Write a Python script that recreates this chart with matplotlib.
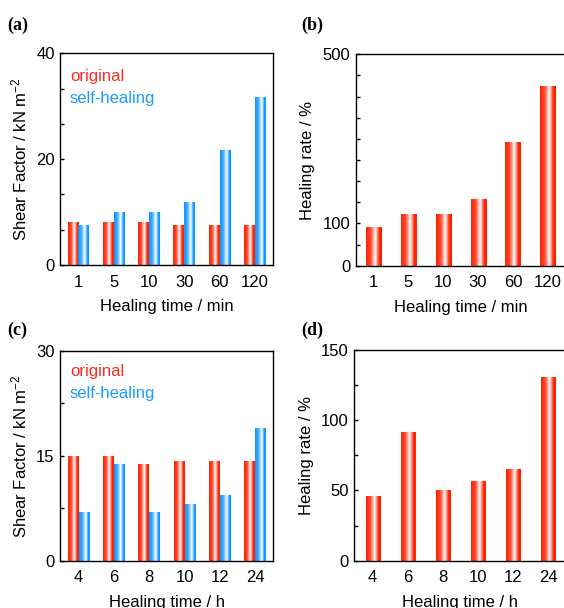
import numpy as np
import matplotlib
matplotlib.use("Agg")
import matplotlib.pyplot as plt
from matplotlib.colors import LinearSegmentedColormap
from matplotlib.ticker import FixedLocator

plt.rcParams['font.family'] = ['Liberation Sans', 'DejaVu Sans']
plt.rcParams['mathtext.fontset'] = 'custom'
plt.rcParams['mathtext.rm'] = 'Liberation Sans'
plt.rcParams['mathtext.it'] = 'Liberation Sans'

# ---- data ----
min_labels = ['1', '5', '10', '30', '60', '120']
min_original = [8.1, 8.1, 8.1, 7.5, 7.5, 7.5]
min_selfheal = [7.5, 10.0, 10.0, 11.9, 21.7, 31.7]
min_rate = [91.5, 122, 122, 158, 293, 425]

h_labels = ['4', '6', '8', '10', '12', '24']
h_original = [15.0, 15.0, 13.8, 14.3, 14.3, 14.3]
h_selfheal = [6.95, 13.8, 6.95, 8.1, 9.4, 19.0]
h_rate = [46, 91.6, 50.3, 56.7, 65.3, 130.8]

RED = '#ff2200'
BLUE = '#0a96ff'
RED_TXT = '#ff2a1a'
BLUE_TXT = '#1e9bff'

cmap_red = LinearSegmentedColormap.from_list(
    'r', [(0, RED), (0.3, '#ff4a30'), (0.58, '#ffffff'), (0.85, RED), (1, RED)])
cmap_blue = LinearSegmentedColormap.from_list(
    'b', [(0, BLUE), (0.3, '#40acff'), (0.62, '#ffffff'), (0.88, BLUE), (1, BLUE)])
grad = np.linspace(0, 1, 64).reshape(1, -1)


def gradient_bars(ax, x, heights, width, cmap):
    bars = ax.bar(x, heights, width=width, facecolor='none',
                  edgecolor='none', linewidth=0)
    for b in bars:
        x0, y0 = b.get_x(), b.get_y()
        w, h = b.get_width(), b.get_height()
        im = ax.imshow(grad, cmap=cmap, aspect='auto', interpolation='bilinear',
                       extent=(x0, x0 + w, y0, y0 + h), zorder=2)
        im.set_clip_path(b)
    return bars


fig = plt.figure(figsize=(5.64, 6.08), dpi=100)


def px_axes(left, right, top, bottom):
    return fig.add_axes([left / 564, 1 - bottom / 608,
                         (right - left) / 564, (bottom - top) / 608])


def style(ax):
    for s in ax.spines.values():
        s.set_linewidth(1.0)
        s.set_color('black')
    ax.tick_params(axis='y', which='both', direction='in', length=3,
                   width=1.0, labelsize=12, pad=4)
    ax.tick_params(axis='x', which='both', length=0, labelsize=12, pad=7)


FS = 12
YLAB_SF = r'Shear Factor / kN m$^{\mathregular{-2}}$'

# (a)
axa = px_axes(60.3, 273, 53.3, 265)
xa = np.arange(len(min_labels))
gradient_bars(axa, xa - 0.155, min_original, 0.31, cmap_red)
gradient_bars(axa, xa + 0.155, min_selfheal, 0.31, cmap_blue)
axa.set_xlim(-0.515, 5.51)
axa.set_ylim(0, 40)
axa.set_yticks([0, 20, 40])
axa.yaxis.set_minor_locator(FixedLocator([20 / 3, 40 / 3, 80 / 3, 100 / 3]))
axa.set_xticks(xa)
axa.set_xticklabels(min_labels)
style(axa)
axa.set_ylabel(YLAB_SF, fontsize=FS, labelpad=5)
axa.set_xlabel('Healing time / min', fontsize=FS, labelpad=7)
axa.text(0.046, 0.869, 'original', color=RED_TXT, fontsize=FS, transform=axa.transAxes)
axa.text(0.046, 0.765, 'self-healing', color=BLUE_TXT, fontsize=FS, transform=axa.transAxes)

# (b)
axb = px_axes(355.7, 566, 54.3, 265.7)
gradient_bars(axb, xa, min_rate, 0.43, cmap_red)
axb.set_xlim(-0.503, 5.52)
axb.set_ylim(0, 500)
axb.set_yticks([0, 100, 500])
axb.yaxis.set_minor_locator(FixedLocator([50, 150, 200, 250, 300, 350, 400, 450]))
axb.set_xticks(xa)
axb.set_xticklabels(min_labels)
style(axb)
axb.set_ylabel('Healing rate / %', fontsize=FS, labelpad=5)
axb.set_xlabel('Healing time / min', fontsize=FS, labelpad=7)

# (c)
axc = px_axes(60.3, 273, 350.7, 560.7)
xh = np.arange(len(h_labels))
gradient_bars(axc, xh - 0.155, h_original, 0.31, cmap_red)
gradient_bars(axc, xh + 0.155, h_selfheal, 0.31, cmap_blue)
axc.set_xlim(-0.52, 5.5)
axc.set_ylim(0, 30)
axc.set_yticks([0, 15, 30])
axc.yaxis.set_minor_locator(FixedLocator([7.5, 22.5]))
axc.set_xticks(xh)
axc.set_xticklabels(h_labels)
style(axc)
axc.set_ylabel(YLAB_SF, fontsize=FS, labelpad=5)
axc.set_xlabel('Healing time / h', fontsize=FS, labelpad=7)
axc.text(0.046, 0.881, 'original', color=RED_TXT, fontsize=FS, transform=axc.transAxes)
axc.text(0.046, 0.773, 'self-healing', color=BLUE_TXT, fontsize=FS, transform=axc.transAxes)

# (d)
axd = px_axes(354.3, 566, 350, 560.7)
gradient_bars(axd, xh, h_rate, 0.40, cmap_red)
axd.set_xlim(-0.52, 5.51)
axd.set_ylim(0, 150)
axd.set_yticks([0, 50, 100, 150])
axd.yaxis.set_minor_locator(FixedLocator([25, 75, 125]))
axd.set_xticks(xh)
axd.set_xticklabels(h_labels)
style(axd)
axd.set_ylabel('Healing rate / %', fontsize=FS, labelpad=5)
axd.set_xlabel('Healing time / h', fontsize=FS, labelpad=7)

# panel labels
for lbl, (px, py) in zip(['(a)', '(b)', '(c)', '(d)'],
                         [(7, 30), (301, 30), (7, 335), (301, 335)]):
    fig.text(px / 564, 1 - py / 608, lbl, fontsize=13, fontweight='bold',
             family=['Liberation Serif', 'DejaVu Serif'])

fig.savefig('out.png', dpi=100)
